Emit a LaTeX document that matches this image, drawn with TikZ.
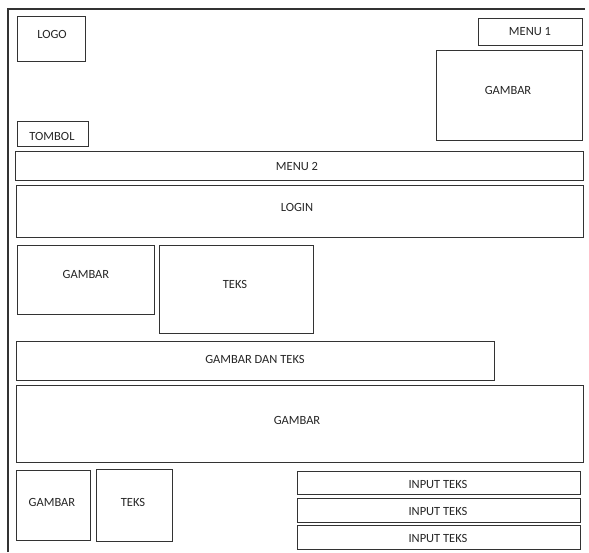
\documentclass[tikz,border=0pt]{standalone}
\usepackage{fontspec}
\setmainfont{Carlito}
\begin{document}
\begin{tikzpicture}[x=1pt,y=-1pt,
  box/.style={draw=black!80, line width=1.2pt, anchor=north west, inner sep=0pt},
  lbl/.style={font=\fontsize{12.5}{14}\selectfont, text=black!85, inner sep=0pt}]
\useasboundingbox (0,0) rectangle (589,552);
\fill[white] (0,0) rectangle (589,552);
% frame
\coordinate (fbl) at (8,552);
\coordinate (ftl) at (8,9);
\coordinate (ftr) at (585,9);
\draw[black!80, line width=1.2pt] (fbl) -- (ftl) -- (ftr);
\newcommand{\bx}[5]{\node[box, minimum width=#4pt, minimum height=#5pt] (#1) at (#2,#3) {};}
% header
\bx{logo}{17}{16}{68}{45}
\node[lbl] (tlogo) at (52,34) {LOGO};
\bx{tombol}{17}{121}{71}{25}
\node[lbl] (ttombol) at (52,136) {TOMBOL};
\bx{menu1}{478}{18}{104}{27}
\node[lbl] (tmenu1) at (530,32) {MENU 1};
\bx{gambar1}{436}{50}{146}{90}
\node[lbl] (tgambar1) at (508,90) {GAMBAR};
% bars
\bx{menu2}{15}{151}{568}{29}
\node[lbl] (tmenu2) at (297,166) {MENU 2};
\bx{login}{16}{185}{567}{52}
\node[lbl] (tlogin) at (297,207) {LOGIN};
% middle
\bx{gambar2}{17}{245}{137}{69}
\node[lbl] (tgambar2) at (86,274) {GAMBAR};
\bx{teks1}{159}{245}{154}{88}
\node[lbl] (tteks1) at (235,284) {TEKS};
\bx{gdt}{16}{341}{478}{39}
\node[lbl] (tgdt) at (255,359) {GAMBAR DAN TEKS};
\bx{gambar3}{16}{385}{567}{77}
\node[lbl] (tgambar3) at (297,420) {GAMBAR};
% bottom
\bx{gambar4}{16}{470}{74}{70}
\node[lbl] (tgambar4) at (52,502) {GAMBAR};
\bx{teks2}{96}{469}{76}{72}
\node[lbl] (tteks2) at (133,502) {TEKS};
\bx{in1}{297}{471}{283}{23}
\node[lbl] (tin1) at (438,484) {INPUT TEKS};
\bx{in2}{297}{498}{283}{24}
\node[lbl] (tin2) at (438,511) {INPUT TEKS};
\bx{in3}{297}{525}{283}{24}
\node[lbl] (tin3) at (438,538) {INPUT TEKS};
\end{tikzpicture}
\end{document}
